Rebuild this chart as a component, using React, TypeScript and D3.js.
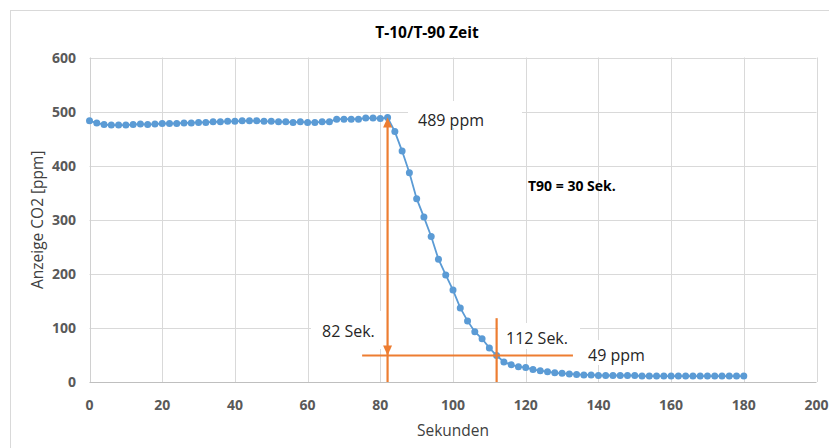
import React, { useEffect, useRef } from "react";
import * as d3 from "d3";

// Messwerte alle 2 Sekunden, 0..180 s
const seconds = d3.range(0, 181, 2);
const ppm = [
  483, 479, 476, 475, 475, 475, 476, 477, 476, 477, 478, 478, 478, 479, 479, 480, 480, 481, 481, 482,
  482, 483, 483, 483, 482, 482, 481, 481, 480, 481, 480, 480, 481, 481, 486, 486, 486, 486, 488, 488,
  487, 489, 463, 427, 387, 339, 305, 269, 227, 198, 170, 137, 113, 93, 80, 63, 49, 37, 32, 28,
  27, 23, 21, 19, 17, 16, 15, 14, 13, 13, 12, 12, 12, 12, 12, 12, 11, 11, 11, 11,
  11, 11, 11, 11, 11, 11, 11, 11, 11, 11, 11,
];
const xTicks = [0, 20, 40, 60, 80, 100, 120, 140, 160, 180, 200];
const yTicks = [0, 100, 200, 300, 400, 500, 600];

// Markierungen T10 / T90
const tStart = 82;
const tEnd = 112;
const ppmStart = 489;
const ppmEnd = 49;
const hLineRange = [75, 133];
const tEndMarkTop = 118;

const App = () => {
  const svgRef = useRef(null);

  useEffect(() => {
    const width = 829,
      height = 448;
    const blue = "#5b9bd5",
      orange = "#ed7d31",
      grid = "#d9d9d9",
      tickColor = "#595959",
      font = "'Open Sans', 'Noto Sans', sans-serif";

    const svg = d3.select(svgRef.current).attr("width", width).attr("height", height).html("");

    const x = d3.scaleLinear().domain([0, 200]).range([89.5, 816.5]);
    const y = d3.scaleLinear().domain([0, 600]).range([382, 57.5]);

    svg.append("rect").attr("width", width).attr("height", height).attr("fill", "#fff");
    // Diagrammrahmen
    svg.append("rect")
      .attr("x", 10.5).attr("y", 10.5).attr("width", 850).attr("height", 450)
      .attr("fill", "none").attr("stroke", grid);

    // Gitterlinien
    const g = svg.append("g");
    g.selectAll("line.gy").data(yTicks.slice(1)).enter().append("line")
      .attr("x1", x(0)).attr("x2", x(200))
      .attr("y1", (d) => Math.round(y(d)) + 0.5).attr("y2", (d) => Math.round(y(d)) + 0.5)
      .attr("stroke", grid);
    g.selectAll("line.gx").data(xTicks.slice(1)).enter().append("line")
      .attr("y1", y(0)).attr("y2", y(600))
      .attr("x1", (d) => Math.round(x(d)) + 0.5).attr("x2", (d) => Math.round(x(d)) + 0.5)
      .attr("stroke", grid);
    // Achsen
    g.append("line").attr("x1", x(0)).attr("x2", x(200)).attr("y1", Math.round(y(0)) + 0.5).attr("y2", Math.round(y(0)) + 0.5).attr("stroke", "#bfbfbf");
    g.append("line").attr("x1", Math.round(x(0)) + 0.5).attr("x2", Math.round(x(0)) + 0.5).attr("y1", y(0)).attr("y2", y(600)).attr("stroke", "#d0d0d0");

    // Achsbeschriftungen
    svg.append("g").selectAll("text").data(yTicks).enter().append("text")
      .attr("x", 76).attr("y", (d) => y(d)).attr("dy", "0.36em")
      .attr("text-anchor", "end").attr("font-family", font).attr("font-weight", 700)
      .attr("font-size", 14).attr("fill", tickColor).text((d) => d);
    svg.append("g").selectAll("text").data(xTicks).enter().append("text")
      .attr("x", (d) => x(d)).attr("y", 405).attr("dy", "0.36em")
      .attr("text-anchor", "middle").attr("font-family", font).attr("font-weight", 700)
      .attr("font-size", 14).attr("fill", tickColor).text((d) => d);

    svg.append("text").attr("x", 427).attr("y", 32).attr("dy", "0.36em")
      .attr("text-anchor", "middle").attr("font-family", font).attr("font-weight", 700)
      .attr("font-size", 15.5).attr("fill", "#000").text("T-10/T-90 Zeit");
    svg.append("text").attr("x", x(100)).attr("y", 430).attr("dy", "0.36em")
      .attr("text-anchor", "middle").attr("font-family", font)
      .attr("font-size", 15.5).attr("fill", "#404040").text("Sekunden");
    svg.append("text").attr("transform", `translate(37, ${y(300)}) rotate(-90)`).attr("dy", "0.36em")
      .attr("text-anchor", "middle").attr("font-family", font)
      .attr("font-size", 15.5).attr("fill", "#404040").text("Anzeige CO2 [ppm]");

    // Messreihe
    const pts = seconds.map((s, i) => [s, ppm[i]]);
    svg.append("path").datum(pts)
      .attr("d", d3.line().x((d) => x(d[0])).y((d) => y(d[1])))
      .attr("fill", "none").attr("stroke", blue).attr("stroke-width", 1.8);
    svg.append("g").selectAll("circle").data(pts).enter().append("circle")
      .attr("cx", (d) => x(d[0])).attr("cy", (d) => y(d[1])).attr("r", 3.5).attr("fill", blue);

    // Textfelder mit weißem Hintergrund
    const box = (x0, y0, w, h) =>
      svg.append("rect").attr("x", x0).attr("y", y0).attr("width", w).attr("height", h).attr("fill", "#fff");
    box(408, 101, 114, 27);
    box(311, 311, 142, 38);
    box(498, 323, 82, 26);
    box(580, 340, 74, 25);

    // Orange Markierungen
    const o = svg.append("g").attr("stroke", orange).attr("stroke-width", 2.2).attr("fill", "none");
    o.append("line").attr("x1", x(tStart)).attr("x2", x(tStart)).attr("y1", y(0)).attr("y2", y(ppmStart) + 6);
    o.append("line").attr("x1", x(hLineRange[0])).attr("x2", x(hLineRange[1])).attr("y1", y(ppmEnd)).attr("y2", y(ppmEnd));
    o.append("line").attr("x1", x(tEnd)).attr("x2", x(tEnd)).attr("y1", y(0)).attr("y2", y(tEndMarkTop));
    const ax = x(tStart);
    svg.append("path")
      .attr("d", `M${ax},${y(ppmStart)} L${ax - 4.5},${y(ppmStart) + 10} L${ax + 4.5},${y(ppmStart) + 10} Z`)
      .attr("fill", orange);
    svg.append("path")
      .attr("d", `M${ax},${y(ppmEnd)} L${ax - 4.5},${y(ppmEnd) - 10} L${ax + 4.5},${y(ppmEnd) - 10} Z`)
      .attr("fill", orange);

    // Texte
    const label = (tx, ty, t, bold = false, size = 16) =>
      svg.append("text").attr("x", tx).attr("y", ty).attr("dy", "0.36em")
        .attr("font-family", font).attr("font-size", size).attr("font-weight", bold ? 700 : 400)
        .attr("fill", bold ? "#000" : "#262626").text(t);
    label(418, 120, `${ppmStart} ppm`);
    label(322, 331, `${tStart} Sek.`);
    label(506, 338, `${tEnd} Sek.`);
    label(588, 355, `${ppmEnd} ppm`);
    label(528, 186, `T90 = ${tEnd - tStart} Sek.`, true, 14);
  }, []);

  return <svg ref={svgRef} style={{ position: "absolute", left: 0, top: 0 }}></svg>;
};

export default App;
